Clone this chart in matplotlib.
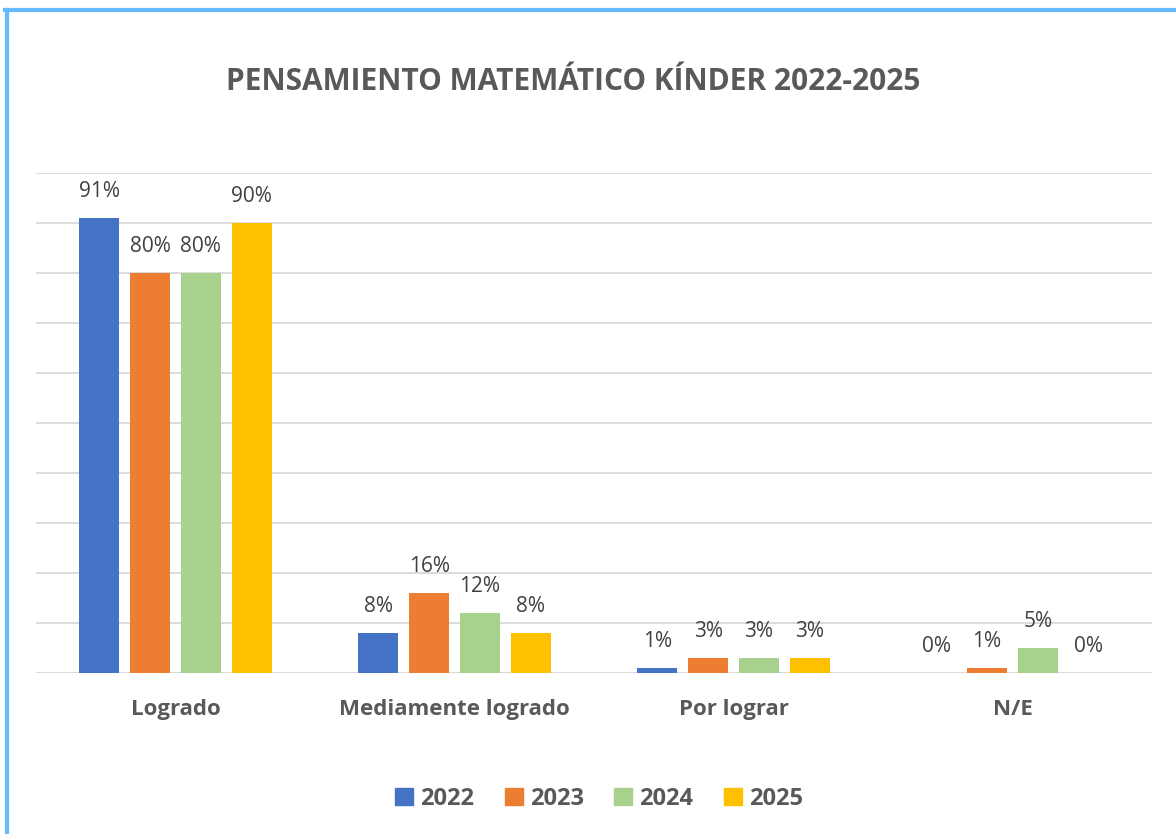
import matplotlib
matplotlib.use("Agg")
import matplotlib.pyplot as plt
from matplotlib.patches import Rectangle
from matplotlib.lines import Line2D
import numpy as np

categories = ["Logrado", "Mediamente logrado", "Por lograr", "N/E"]
years = ["2022", "2023", "2024", "2025"]
v2022 = [91, 8, 1, 0]
v2023 = [80, 16, 3, 1]
v2024 = [80, 12, 3, 5]
v2025 = [90, 8, 3, 0]
series = [v2022, v2023, v2024, v2025]
colors = ["#4472C4", "#ED7D31", "#A9D18E", "#FFC000"]

plt.rcParams['font.family'] = ['Open Sans', 'DejaVu Sans']
txt = "#595959"

fig = plt.figure(figsize=(11.76, 8.34), dpi=100)
W, H = 1176, 834
ax = fig.add_axes([36 / W, 1 - 673 / H, (1152 - 36) / W, (673 - 173) / H])

x = np.arange(len(categories))
step = 0.182
bw = 0.143
for i, (vals, c, yr) in enumerate(zip(series, colors, years)):
    pos = x + (i - 1.5) * step
    ax.bar(pos, vals, width=bw, color=c, label=yr, zorder=3)
    for p, v in zip(pos, vals):
        ax.text(p, v + 3.2, f"{v}%", ha="center", va="bottom", fontsize=15, color="#404040", zorder=4)

ax.set_xlim(-0.5, 3.5)
ax.set_ylim(0, 100)
ax.set_yticks(np.arange(0, 101, 10))
ax.yaxis.grid(True, color="#D9D9D9", linewidth=1.3, zorder=0)
ax.tick_params(axis="y", left=False, labelleft=False)
ax.tick_params(axis="x", bottom=False, pad=15)
ax.set_xticks(x)
ax.set_xticklabels(categories, fontsize=16, fontweight="bold", color=txt)
for s in ax.spines.values():
    s.set_visible(False)
ax.axhline(0, color="#D9D9D9", linewidth=1.3, zorder=2)

fig.text(573 / W, 1 - 82 / H, "PENSAMIENTO MATEMÁTICO KÍNDER 2022-2025", ha="center", va="center",
         fontsize=21.5, fontweight="bold", color=txt)

handles = [Rectangle((0, 0), 1, 1, color=c) for c in colors]
leg = fig.legend(handles, years, loc="center", bbox_to_anchor=(599 / W, 1 - 799 / H), ncol=4, frameon=False,
                 prop={"size": 17, "weight": "bold"}, handlelength=0.75, handleheight=0.75,
                 handletextpad=0.3, columnspacing=1.3)
for t in leg.get_texts():
    t.set_color(txt)

# border
fig.add_artist(Line2D([6.5 / W, 6.5 / W], [0, 1 - 10 / H], transform=fig.transFigure, color="#66BBFF", linewidth=3))
fig.add_artist(Line2D([5 / W, 1], [1 - 10 / H, 1 - 10 / H], transform=fig.transFigure, color="#66BBFF", linewidth=3))

fig.savefig("out.png", dpi=100, facecolor="white")
